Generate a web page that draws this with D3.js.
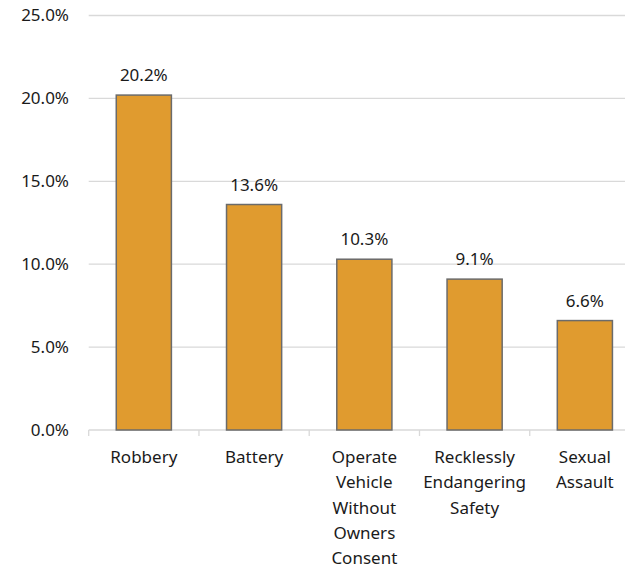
<!DOCTYPE html>
<html lang="en">
<head>
<meta charset="utf-8">
<title>Offense share</title>
<script src="https://d3js.org/d3.v7.min.js"></script>
<style>
  body { margin: 0; background: #fff; }
  text { font-family: "Noto Sans", "Lato", sans-serif; fill: #1a1a1a; }
  .grid line { stroke: #d9d9d9; stroke-width: 1.3; }
  .axis path, .axis line { stroke: #d9d9d9; stroke-width: 1.3; }
</style>
</head>
<body>
<div id="chart"></div>
<script>
// data
var categories = ["Robbery", "Battery", "Operate Vehicle Without Owners Consent", "Recklessly Endangering Safety", "Sexual Assault"]
var labelLines = [["Robbery"], ["Battery"], ["Operate", "Vehicle", "Without", "Owners", "Consent"], ["Recklessly", "Endangering", "Safety"], ["Sexual", "Assault"]]
var values = [20.2, 13.6, 10.3, 9.1, 6.6]
var yTicks = [0, 5, 10, 15, 20, 25]

var w = 625
var h = 571
var mLeft = 88.7, mRight = 640, mTop = 15.5, mBottom = 430
var fontSize = "17px"

var svg = d3.select("#chart").append("svg")
  .attr("width", w)
  .attr("height", h)

var xScale = d3.scaleBand()
  .domain(categories)
  .range([mLeft, mRight])
  .paddingInner(0.5)
  .paddingOuter(0.25)

var yScale = d3.scaleLinear()
  .domain([0, 25])
  .range([mBottom, mTop])

// gridlines
svg.append("g").attr("class", "grid")
  .selectAll("line")
  .data(yTicks.filter(function(d) { return d > 0 }))
  .enter().append("line")
  .attr("x1", mLeft).attr("x2", mRight)
  .attr("y1", function(d) { return yScale(d) })
  .attr("y2", function(d) { return yScale(d) })

// y labels
svg.append("g")
  .selectAll("text")
  .data(yTicks)
  .enter().append("text")
  .attr("x", 69)
  .attr("y", function(d) { return yScale(d) })
  .attr("dy", "0.35em")
  .attr("text-anchor", "end")
  .style("font-size", fontSize)
  .text(function(d) { return d.toFixed(1) + "%" })

// x axis with ticks between categories
var xAxis = svg.append("g").attr("class", "axis")
  .attr("transform", "translate(0," + mBottom + ")")
xAxis.append("line").attr("x1", mLeft).attr("x2", mRight)
var step = xScale.step()
xAxis.selectAll(".tk")
  .data(d3.range(categories.length + 1))
  .enter().append("line").attr("class", "tk")
  .attr("x1", function(i) { return mLeft + i * step })
  .attr("x2", function(i) { return mLeft + i * step })
  .attr("y1", 0).attr("y2", 6)

// bars
svg.append("g")
  .selectAll("rect")
  .data(values)
  .enter().append("rect")
  .attr("x", function(d, i) { return xScale(categories[i]) })
  .attr("y", function(d) { return yScale(d) })
  .attr("width", xScale.bandwidth())
  .attr("height", function(d) { return mBottom - yScale(d) })
  .style("fill", "#e09b2f")
  .style("stroke", "#6b6b6b")
  .style("stroke-width", 1.5)

// value labels
svg.append("g")
  .selectAll("text")
  .data(values)
  .enter().append("text")
  .attr("x", function(d, i) { return xScale(categories[i]) + xScale.bandwidth() / 2 })
  .attr("y", function(d) { return yScale(d) - 14 })
  .attr("text-anchor", "middle")
  .style("font-size", fontSize)
  .text(function(d) { return d.toFixed(1) + "%" })

// category labels
var cat = svg.append("g")
  .selectAll("text")
  .data(labelLines)
  .enter().append("text")
  .attr("x", function(d, i) { return xScale(categories[i]) + xScale.bandwidth() / 2 })
  .attr("y", 463)
  .attr("text-anchor", "middle")
  .style("font-size", fontSize)
cat.selectAll("tspan")
  .data(function(d) { return d })
  .enter().append("tspan")
  .attr("x", function() { return d3.select(this.parentNode).attr("x") })
  .attr("dy", function(d, i) { return i === 0 ? 0 : 25.3 })
  .text(function(d) { return d })
</script>
</body>
</html>
